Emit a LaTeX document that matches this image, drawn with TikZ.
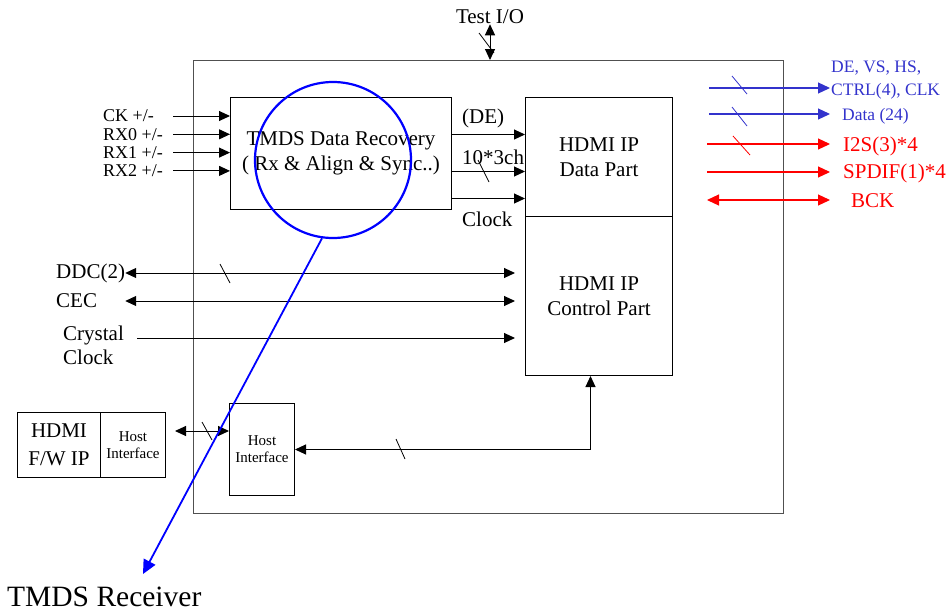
\documentclass[tikz,border=0pt]{standalone}
\usepackage{fontspec}
\setmainfont{Liberation Serif}
\usetikzlibrary{arrows.meta, calc}
\definecolor{cblue} {RGB}{51, 51,204}
\definecolor{cring} {RGB}{ 0,  0,255}
\definecolor{cred}  {RGB}{255, 0,  0}
\definecolor{cframe}{RGB}{80, 80, 80}
\tikzset{
  blk/.style={draw, line width=1pt, anchor=north west, inner sep=0pt,
              align=center, font=\fontsize{21}{25}\selectfont},
  hostf/.style={font=\fontsize{15}{17}\selectfont},
  txt/.style={inner sep=0pt, font=\fontsize{21}{24}\selectfont},
  pin/.style={inner sep=0pt, anchor=west, font=\fontsize{18}{20}\selectfont},
  arr/.style={-{Triangle[length=11pt,width=10pt]}, line width=1pt},
  dbl/.style={{Triangle[length=11pt,width=10pt]}-{Triangle[length=11pt,width=10pt]}, line width=1pt},
  tick/.style={line width=0.8pt},
  barr/.style={-{Triangle[length=12pt,width=11pt]}, line width=1.2pt, color=cblue},
  rarr/.style={-{Triangle[length=12pt,width=11pt]}, line width=1.2pt, color=cred},
  rdbl/.style={{Triangle[length=12pt,width=11pt]}-{Triangle[length=12pt,width=11pt]}, line width=1.2pt, color=cred},
}

\begin{document}
\begin{tikzpicture}[x=1pt, y=-1pt]
  \useasboundingbox (0,0) rectangle (950,613);

  % ── Blocks ─────────────────────────────────────────────────────────────────
  \node[draw=cframe, line width=1.3pt, anchor=north west, inner sep=0pt,
        minimum width=590pt, minimum height=453pt] (chip) at (193,60) {};
  \node[blk, minimum width=221pt, minimum height=112pt] (tmds) at (230,97)
       {TMDS Data Recovery\\( Rx \& Align \& Sync..)};
  \node[blk, minimum width=147pt, minimum height=119pt] (data) at (525,97)
       {HDMI IP\\Data Part};
  \node[blk, minimum width=147pt, minimum height=159pt] (ctrl) at (525,216)
       {HDMI IP\\Control Part};
  \node[blk, hostf, minimum width=65pt, minimum height=92pt] (hif) at (229,403)
       {Host\\Interface};
  \node[blk, font=\fontsize{21}{28}\selectfont, minimum width=83pt, minimum height=65pt] (fw) at (17,412)
       {HDMI\\F/W IP};
  \node[blk, hostf, minimum width=65pt, minimum height=65pt] (fwhif) at (100,412)
       {Host\\Interface};

  % ── TMDS inputs ────────────────────────────────────────────────────────────
  \foreach \p [count=\i] in {CK, RX0, RX1, RX2} {
    \node[pin] (in\i) at (103, 97.7+18.3*\i) {\p{} +/-};
    \coordinate (s\i) at (173, 97.7+18.3*\i);
    \draw[arr] (s\i) -- (s\i -| tmds.west);
  }

  % ── Recovery -> data part ──────────────────────────────────────────────────
  \coordinate (de)  at ([yshift=19pt]tmds.east);
  \coordinate (dat) at ([yshift=-18pt]tmds.east);
  \coordinate (clk) at ([yshift=-45pt]tmds.east);
  \draw[arr] (de)  -- (de  -| data.west);
  \draw[arr] (dat) -- (dat -| data.west);
  \draw[arr] (clk) -- (clk -| data.west);
  \draw[tick] (483.5,171) +(-5.5,-11) -- +(5.5,11);
  \node[txt, anchor=west] (delbl)  at (462,118) {(DE)};
  \node[txt, anchor=west] (datlbl) at (462,157) {10*3ch};
  \node[txt, anchor=west] (clklbl) at (462,219) {Clock};

  % ── Test port ──────────────────────────────────────────────────────────────
  \node[txt] (tio) at (490,17) {Test I/O};
  \draw[dbl] (tio.south) -- (tio.south |- chip.north);
  \draw[tick] (486.5,43) +(-7.5,-10) -- +(7.5,10);

  % ── Control side ───────────────────────────────────────────────────────────
  \node[txt, anchor=west] (ddc) at (56,273) {DDC(2)};
  \node[txt, anchor=west] (cec) at (56,301) {CEC};
  \node[txt, anchor=west, align=left] (xtal) at (63,345) {Crystal\\Clock};
  \coordinate (xc) at (137,338);
  \draw[dbl, shorten >=10pt] (ddc.east) -- (ddc.east -| ctrl.west);
  \draw[dbl, shorten >=10pt] (cec -| ddc.east) -- (cec -| ctrl.west);
  \draw[arr, shorten >=10pt] (xc) -- (xc -| ctrl.west);
  \draw[tick] (225,273.5) +(-5,-9.5) -- +(5,9.5);

  % ── Host link ──────────────────────────────────────────────────────────────
  \coordinate (hl) at (175,431);
  \draw[dbl] (hl) -- (hl -| hif.west);
  \draw[tick] (207,431) +(-5,-9) -- +(5,9);
  \draw[dbl] (hif.east) -| ([xshift=-8.5pt]ctrl.south);
  \draw[tick] (400.5,449) +(-4.5,-10) -- +(4.5,10);

  % ── Video / audio outputs ──────────────────────────────────────────────────
  \coordinate (oe) at (830,0);
  \coordinate (b1) at (709,88);
  \coordinate (b2) at (709,114);
  \coordinate (r1) at (707,144);
  \coordinate (r2) at (707,172);
  \coordinate (r3) at (707,200);
  \draw[barr] (b1) -- (b1 -| oe);
  \draw[barr] (b2) -- (b2 -| oe);
  \draw[rarr] (r1) -- (r1 -| oe);
  \draw[rarr] (r2) -- (r2 -| oe);
  \draw[rdbl] (r3) -- (r3 -| oe);
  \draw[tick, cblue] (739.5,85)    +(-7.5,-9)   -- +(7.5,9);
  \draw[tick, cblue] (739.5,116.5) +(-7.5,-9.5) -- +(7.5,9.5);
  \draw[tick, cred]  (741.5,145.5) +(-8.5,-9.5) -- +(8.5,9.5);
  \node[pin, cblue, align=left, font=\fontsize{17.5}{23}\selectfont] (vlbl) at (831,80.5)
       {DE, VS, HS,\\CTRL(4), CLK};
  \node[pin, cblue, font=\fontsize{17.5}{20}\selectfont] (dlbl) at (842,116) {Data (24)};
  \node[txt, cred, anchor=west] (i2s)   at (843,146) {I2S(3)*4};
  \node[txt, cred, anchor=west] (spdif) at (843,173) {SPDIF(1)*4};
  \node[txt, cred, anchor=west] (bck)   at (851,201) {BCK};

  % ── Receiver callout ───────────────────────────────────────────────────────
  \node[circle, draw=cring, line width=2.2pt, minimum size=156pt, inner sep=0pt] (ring) at (333,160) {};
  \node[txt, anchor=west, font=\fontsize{29.5}{32}\selectfont] (rcv) at (7,597) {TMDS Receiver};
  \coordinate (tip) at (143,574);
  \draw[-{Triangle[length=14pt,width=13pt]}, line width=1.8pt, cring] (ring.262) -- (tip);
\end{tikzpicture}
\end{document}
